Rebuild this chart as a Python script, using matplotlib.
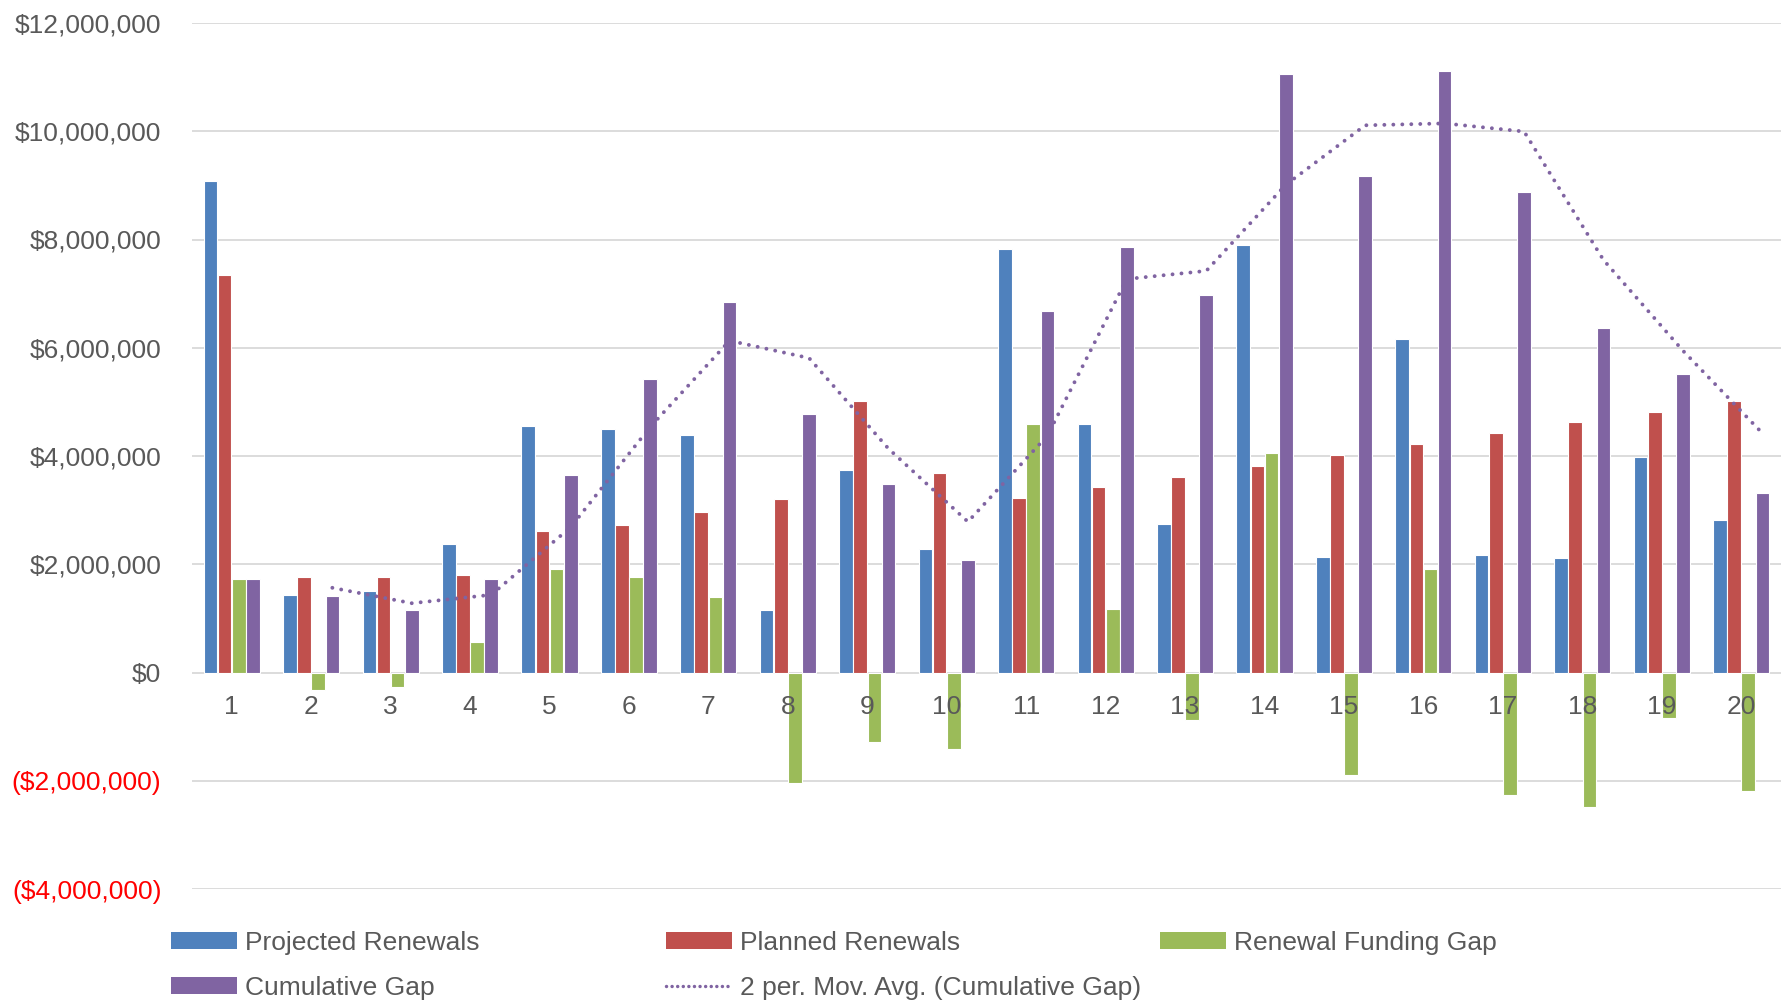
import numpy as np
import pandas as pd
import matplotlib
matplotlib.use("Agg")
import matplotlib.pyplot as plt
from matplotlib.patches import Patch
from matplotlib.lines import Line2D

plt.rcParams['font.family'] = ['Liberation Sans', 'DejaVu Sans']

# Renewal program by year (values in $ millions)
years = list(range(1, 21))
projected = [9.09, 1.43, 1.51, 2.38, 4.55, 4.49, 4.38, 1.15, 3.74, 2.28,
             7.83, 4.60, 2.74, 7.89, 2.14, 6.16, 2.17, 2.12, 3.98, 2.82]
planned = [7.35, 1.76, 1.77, 1.80, 2.62, 2.72, 2.96, 3.21, 5.02, 3.69,
           3.22, 3.42, 3.62, 3.82, 4.02, 4.22, 4.42, 4.63, 4.82, 5.02]
funding_gap = [1.72, -0.32, -0.26, 0.56, 1.92, 1.76, 1.39, -2.04, -1.29, -1.41,
               4.59, 1.17, -0.87, 4.06, -1.90, 1.92, -2.26, -2.49, -0.84, -2.19]
cumulative_gap = [1.72, 1.41, 1.15, 1.72, 3.65, 5.42, 6.84, 4.78, 3.49, 2.08,
                  6.67, 7.87, 6.97, 11.05, 9.17, 11.12, 8.87, 6.37, 5.52, 3.32]

series_names = ['Projected Renewals', 'Planned Renewals',
                'Renewal Funding Gap', 'Cumulative Gap']
colors = ['#4F81BD', '#C0504D', '#9BBB59', '#8064A2']
y_ticks = [-4, -2, 0, 2, 4, 6, 8, 10, 12]

x = np.array(years, dtype=float)
data = [np.array(s) * 1e6 for s in (projected, planned, funding_gap, cumulative_gap)]

# trendline: 2-period moving average of the cumulative gap
moving_avg = pd.Series(data[3]).rolling(2).mean()

fig = plt.figure(figsize=(17.89, 10), dpi=100)
ax = fig.add_axes([0.1073, 0.111, 0.8882, 0.866])

# horizontal gridlines behind everything
for t in y_ticks:
    ax.axhline(t * 1e6, color='#D9D9D9', linewidth=1.3, zorder=0)

pitch = 0.178
width = 0.172
for i, (vals, c, name) in enumerate(zip(data, colors, series_names)):
    ax.bar(x + (i - 1.5) * pitch, vals, width=width, color=c,
           edgecolor='white', linewidth=0.8, label=name, zorder=3)

ax.plot(x + 1.5 * pitch, moving_avg, color='#8064A2', linewidth=2.8,
        linestyle=(0, (0.01, 2.3)), dash_capstyle='round', zorder=4)

# axes styling
ax.set_xlim(0.5, 20.5)
ax.set_ylim(-4e6, 12e6)
ax.set_yticks([t * 1e6 for t in y_ticks])
labels = []
for t in y_ticks:
    if t < 0:
        labels.append('(${:,.0f})'.format(-t * 1e6))
    else:
        labels.append('${:,.0f}'.format(t * 1e6))
ax.set_yticklabels(labels)
for lbl, t in zip(ax.get_yticklabels(), y_ticks):
    lbl.set_color('#FF0000' if t < 0 else '#595959')

ax.set_xticks(x)
ax.set_xticklabels([str(y) for y in years])
ax.spines['bottom'].set_position(('data', 0))
for s in ax.spines.values():
    s.set_visible(False)
ax.tick_params(axis='y', length=0, pad=22, labelsize=19)
ax.tick_params(axis='x', length=0, pad=16, labelsize=19, labelcolor='#595959')
ax.set_axisbelow(False)
ax.xaxis.set_zorder(5)

# legend laid out in three columns
def patch(c):
    return Patch(facecolor=c, edgecolor='none')

ma_handle = Line2D([], [], color='#8064A2', linewidth=2.5,
                   linestyle=(0, (0.01, 1.6)), dash_capstyle='round')
columns = [
    ([patch(colors[0]), patch(colors[3])], [series_names[0], series_names[3]], 0.0956),
    ([patch(colors[1]), ma_handle], [series_names[1], '2 per. Mov. Avg. (Cumulative Gap)'], 0.3723),
    ([patch(colors[2])], [series_names[2]], 0.6484),
]
for handles, names, xpos in columns:
    fig.legend(handles, names, loc='upper left', bbox_to_anchor=(xpos, 0.069),
               frameon=False, fontsize=19, labelcolor='#595959',
               handlelength=2.5, handleheight=0.6, handletextpad=0.3,
               labelspacing=0.8, borderpad=0, borderaxespad=0)

fig.savefig('out.png', dpi=100)
